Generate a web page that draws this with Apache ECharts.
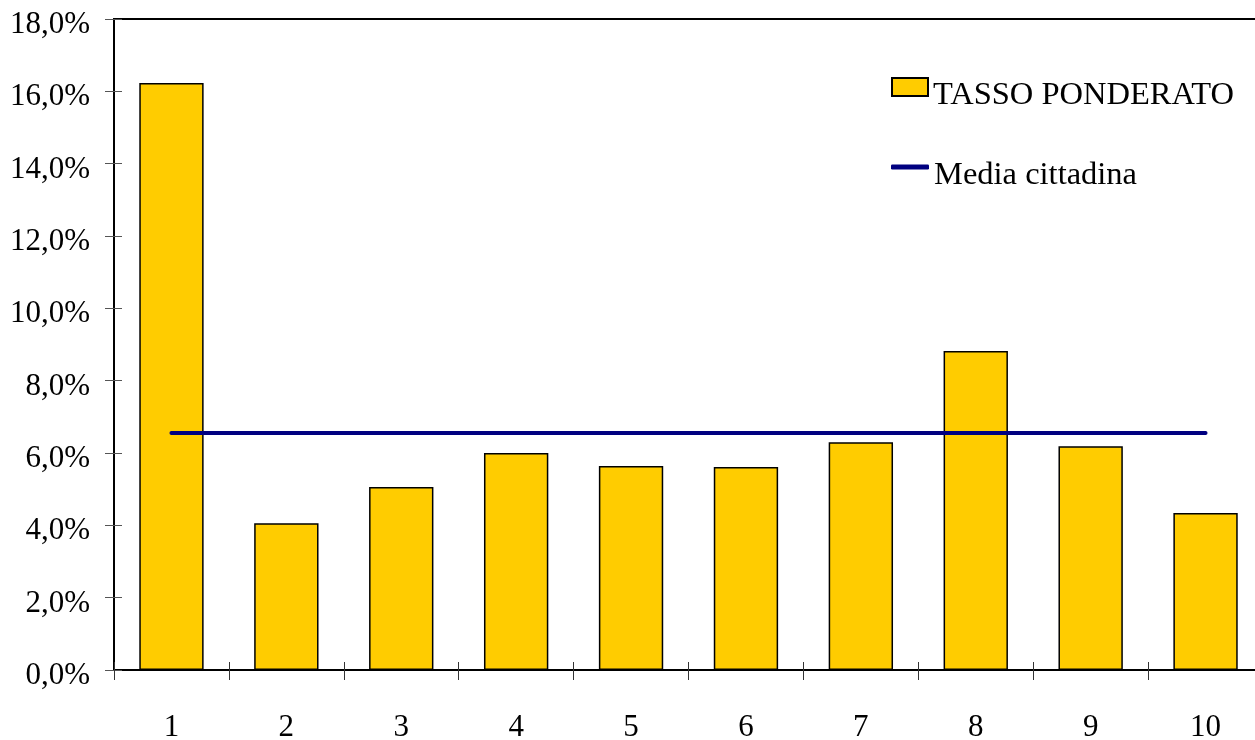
<!DOCTYPE html>
<html>
<head>
<meta charset="utf-8">
<script src="https://cdn.jsdelivr.net/npm/echarts@6/dist/echarts.min.js"></script>
<style>html,body{margin:0;padding:0;background:#fff}#c{width:1255px;height:740px}</style>
</head>
<body>
<div id="c"></div>
<script>
const categories = ['1','2','3','4','5','6','7','8','9','10'];
const tassoPonderato = [16.23, 4.06, 5.06, 6.00, 5.64, 5.61, 6.30, 8.82, 6.19, 4.34];
const mediaCittadina = [6.55, 6.55, 6.55, 6.55, 6.55, 6.55, 6.55, 6.55, 6.55, 6.55];
const yMin = 0, yMax = 18, yStep = 2;

const FONT = '"Liberation Serif", "Times New Roman", serif';
const chart = echarts.init(document.getElementById('c'), null, {renderer: 'canvas'});
const fmt = v => '{a|' + v.toFixed(1).replace('.', ',') + '%}';
const legendText = {fontFamily: FONT, fontSize: 32.5, color: '#000',
  rich: {a: {fontFamily: FONT, fontSize: 32.5, color: '#000', padding: [17, 0, 0, 0]}}};
chart.setOption({
  animation: false,
  backgroundColor: '#fff',
  grid: {left: 114, width: 1149, top: 19, bottom: 70, outerBoundsMode: 'none', containLabel: false,
         show: true, borderColor: '#000', borderWidth: 2, backgroundColor: 'transparent'},
  legend: [
    {data: [{name: 'TASSO PONDERATO', icon: 'rect'}], orient: 'vertical', left: 886, top: 72, itemWidth: 36, itemHeight: 18,
     formatter: '{a|{name}}', textStyle: legendText},
    {data: [{name: 'Media cittadina', icon: 'roundRect'}], orient: 'vertical', left: 886, top: 154, itemWidth: 38, itemHeight: 5,
     formatter: '{a|{name}}', textStyle: legendText}
  ],
  xAxis: [
    {type: 'category', data: categories, boundaryGap: true,
     axisLine: {lineStyle: {color: '#000', width: 2}},
     axisTick: {show: true, length: 10, inside: false, lineStyle: {color: '#333', width: 1}},
     axisLabel: {fontFamily: FONT, fontSize: 31, color: '#000', margin: 42}},
    {type: 'category', data: categories, boundaryGap: true, position: 'bottom',
     axisLine: {show: false},
     axisTick: {show: true, length: 8, inside: true, lineStyle: {color: '#333', width: 1}},
     axisLabel: {show: false}}
  ],
  yAxis: [
    {type: 'value', min: yMin, max: yMax, interval: yStep, position: 'left',
     splitLine: {show: false},
     axisLine: {show: true, lineStyle: {color: '#000', width: 2}},
     axisTick: {show: true, length: 9, lineStyle: {color: '#555', width: 1}},
     axisLabel: {fontFamily: FONT, fontSize: 31, color: '#000', margin: 24, formatter: fmt,
       rich: {a: {fontFamily: FONT, fontSize: 31, color: '#000', padding: [12, 0, 0, 0]}}}},
    {type: 'value', min: yMin, max: yMax, interval: yStep, position: 'left', offset: 0,
     splitLine: {show: false},
     axisLine: {show: false},
     axisTick: {show: true, length: 8, inside: true, lineStyle: {color: '#555', width: 1}},
     axisLabel: {show: false}}
  ],
  series: [
    {name: 'TASSO PONDERATO', type: 'bar', data: tassoPonderato, barWidth: '56%',
     itemStyle: {color: '#FFCC00', borderColor: '#000', borderWidth: 1.5}},
    {name: 'Media cittadina', type: 'line', data: mediaCittadina, symbol: 'none',
     lineStyle: {color: '#000080', width: 4, cap: 'round'}, itemStyle: {color: '#000080'}}
  ]
});
</script>
</body>
</html>
